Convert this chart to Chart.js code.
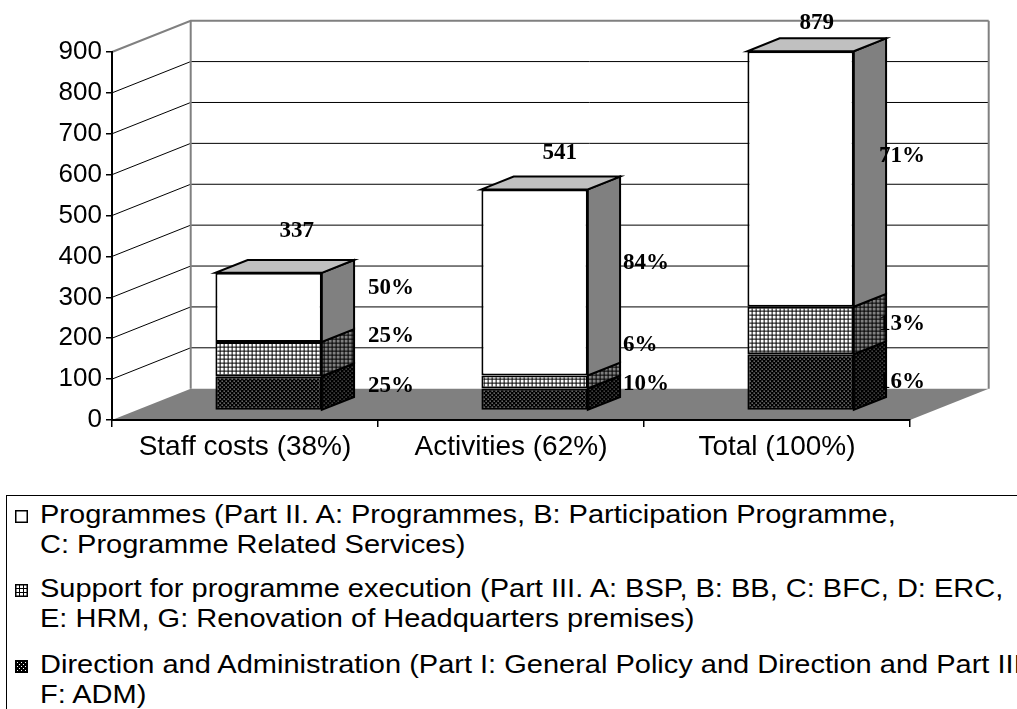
<!DOCTYPE html>
<html><head><meta charset="utf-8">
<script src="https://cdn.jsdelivr.net/npm/chart.js@4.4.1/dist/chart.umd.min.js"></script>
<style>
html,body{margin:0;padding:0;background:#fff;overflow:hidden;width:1017px;height:709px;}
#wrap{position:relative;width:1017px;height:709px;overflow:hidden;}
#c{position:absolute;left:0;top:0;}
#legend{position:absolute;left:6px;top:495px;width:1200px;height:300px;border-top:1px solid #000;border-left:1px solid #000;}
.item{position:absolute;left:0;width:1200px;}
.sw{position:absolute;left:8px;width:13px;height:13px;}
.txt{position:absolute;left:33px;top:0;font-family:"Liberation Sans",Arial,sans-serif;font-size:25px;line-height:30px;white-space:nowrap;transform:scaleX(1.16);transform-origin:0 0;color:#000;}
</style></head>
<body><div id="wrap"><canvas id="c" width="1017" height="480"></canvas><div id="legend"></div></div>
<script>
// ---- data ----
const categories = ['Staff costs (38%)', 'Activities (62%)', 'Total (100%)'];
const direction  = [84, 54, 138];
const support    = [84, 32, 116];
const programmes = [169, 455, 625];
const yMin = 0, yMax = 900, yStep = 100;
const legendDirection  = ['Direction and Administration (Part I: General Policy and Direction and Part III.', 'F: ADM)'];
const legendSupport    = ['Support for programme execution (Part III. A: BSP, B: BB, C: BFC, D: ERC,', 'E: HRM, G: Renovation of Headquarters premises)'];
const legendProgrammes = ['Programmes (Part II. A: Programmes, B: Participation Programme,', 'C: Programme Related Services)'];

// ---- 3D geometry / label styling ----
const DEPTH = {dx: 78.7, dy: -31.3};
const BAR_FRONT = 0.30, BAR_BACK = 0.71;
const totalNudge = [[12, -35], [9, -30], [0, -22]];
// per dataset (direction, support, programmes), per category
const pctNudge = [
  [[14, 6], [3, -2], [-7, 13]],
  [[14, -10], [3, -24], [-7, 6]],
  [[14, -6], [3, -7], [-7, -10]]
];

function tile(kind, bg, fg){
  const c = document.createElement('canvas'); c.width = 4; c.height = 4;
  const g = c.getContext('2d');
  g.fillStyle = bg; g.fillRect(0,0,4,4); g.fillStyle = fg;
  if (kind === 'grid'){ g.fillRect(0,0,4,1); g.fillRect(0,0,1,4); }
  else { g.fillRect(0,0,1,1); g.fillRect(2,2,1,1); }
  return c;
}
const canvas = document.getElementById('c');
const ctx = canvas.getContext('2d');
const pat = (kind,bg,fg) => ctx.createPattern(tile(kind,bg,fg),'repeat');
const frontFill = [pat('dots','#000','#fff'), pat('grid','#fff','#000'), '#ffffff'];
const sideFill  = [pat('dots','#000','#a0a0a0'), pat('grid','#808080','#000'), '#808080'];
const topFill = '#c0c0c0';
const FONT = '"Liberation Sans", Arial, sans-serif';
const LABEL_FONT = 'bold 23px "Liberation Serif", "Times New Roman", serif';

const threeD = {
  id: 'threeD',
  beforeDraw(chart){
    const {ctx, chartArea:a, scales:{y}} = chart;
    ctx.save();
    const y0 = y.getPixelForValue(0);
    ctx.fillStyle = '#808080';
    ctx.beginPath();
    ctx.moveTo(a.left, y0); ctx.lineTo(a.right, y0);
    ctx.lineTo(a.right + DEPTH.dx, y0 + DEPTH.dy); ctx.lineTo(a.left + DEPTH.dx, y0 + DEPTH.dy);
    ctx.closePath(); ctx.fill();
    y.ticks.forEach(t => {
      if (t.value === yMin) return;
      const py = y.getPixelForValue(t.value);
      const top = t.value === yMax;
      ctx.strokeStyle = top ? '#808080' : '#000';
      ctx.lineWidth = top ? 2 : 1;
      ctx.beginPath();
      ctx.moveTo(a.left, py); ctx.lineTo(a.left + DEPTH.dx, py + DEPTH.dy);
      ctx.lineTo(a.right + DEPTH.dx, py + DEPTH.dy);
      ctx.stroke();
    });
    const yt = y.getPixelForValue(yMax) + DEPTH.dy, yb = y0 + DEPTH.dy;
    ctx.strokeStyle = '#808080'; ctx.lineWidth = 2;
    ctx.beginPath();
    ctx.moveTo(a.left + DEPTH.dx, yt); ctx.lineTo(a.left + DEPTH.dx, yb);
    ctx.moveTo(a.right + DEPTH.dx, yt); ctx.lineTo(a.right + DEPTH.dx, yb);
    ctx.stroke();
    ctx.restore();
  },
  beforeDatasetsDraw(chart){
    const {ctx} = chart;
    ctx.save();
    ctx.translate(DEPTH.dx * BAR_FRONT, DEPTH.dy * BAR_FRONT);
    const bdx = DEPTH.dx * (BAR_BACK - BAR_FRONT), bdy = DEPTH.dy * (BAR_BACK - BAR_FRONT);
    const n = chart.data.datasets.length;
    for (let i = 0; i < n; i++){
      chart.getDatasetMeta(i).data.forEach(el => {
        const p = el.getProps(['x','y','base','width'], true);
        const xl = p.x - p.width/2, xr = p.x + p.width/2;
        const top = Math.min(p.y, p.base), bot = Math.max(p.y, p.base);
        ctx.lineWidth = 2; ctx.strokeStyle = '#000'; ctx.lineJoin = 'miter';
        ctx.fillStyle = sideFill[i];
        ctx.beginPath();
        ctx.moveTo(xr, top); ctx.lineTo(xr + bdx, top + bdy); ctx.lineTo(xr + bdx, bot + bdy); ctx.lineTo(xr, bot);
        ctx.closePath(); ctx.fill(); ctx.stroke();
        if (i === n - 1){
          ctx.fillStyle = topFill;
          ctx.beginPath();
          ctx.moveTo(xl, top); ctx.lineTo(xr, top); ctx.lineTo(xr + bdx, top + bdy); ctx.lineTo(xl + bdx, top + bdy);
          ctx.closePath(); ctx.fill(); ctx.stroke();
        }
      });
    }
  },
  afterDatasetsDraw(chart){
    const {ctx} = chart;
    ctx.restore();
    const tx = DEPTH.dx * BAR_FRONT, ty = DEPTH.dy * BAR_FRONT;
    const bdx = DEPTH.dx * (BAR_BACK - BAR_FRONT), bdy = DEPTH.dy * (BAR_BACK - BAR_FRONT);
    const n = chart.data.datasets.length;
    ctx.save();
    ctx.font = LABEL_FONT; ctx.fillStyle = '#000'; ctx.textBaseline = 'middle';
    for (let i = 0; i < n; i++){
      chart.getDatasetMeta(i).data.forEach((el, j) => {
        const p = el.getProps(['x','y','base','width'], true);
        let tot = 0; chart.data.datasets.forEach(d => tot += d.data[j]);
        const v = chart.data.datasets[i].data[j];
        const txt = Math.round(v / tot * 100) + '%';
        const xa = p.x + p.width/2 + tx + bdx + pctNudge[i][j][0];
        const ya = (p.y + p.base)/2 + ty + bdy + pctNudge[i][j][1];
        ctx.textAlign = 'left';
        ctx.fillText(txt, xa, ya);
      });
    }
    chart.getDatasetMeta(n - 1).data.forEach((el, j) => {
      const p = el.getProps(['x','y'], true);
      let tot = 0; chart.data.datasets.forEach(d => tot += d.data[j]);
      ctx.textAlign = 'center';
      ctx.fillText(String(tot), p.x + tx + bdx/2 + totalNudge[j][0], p.y + ty + bdy/2 + totalNudge[j][1]);
    });
    ctx.restore();
  }
};

const common = {borderColor:'#000', borderWidth:2, borderSkipped:false, barPercentage:0.4, categoryPercentage:1, clip:false};
new Chart(ctx, {
  type: 'bar',
  data: {
    labels: categories,
    datasets: [
      Object.assign({label: legendDirection.join(' '), data: direction, backgroundColor: frontFill[0]}, common),
      Object.assign({label: legendSupport.join(' '), data: support, backgroundColor: frontFill[1]}, common),
      Object.assign({label: legendProgrammes.join(' '), data: programmes, backgroundColor: frontFill[2]}, common)
    ]
  },
  options: {
    responsive: false, animation: false, devicePixelRatio: 1, events: [],
    layout: {padding: {left: 0, right: 107, top: 52, bottom: 0}},
    plugins: {legend: {display: false}, tooltip: {enabled: false}},
    scales: {
      x: {
        stacked: true,
        grid: {offset: true, drawOnChartArea: false, drawTicks: true, tickLength: 7, color: '#000', lineWidth: 1.5},
        border: {display: true, color: '#000', width: 2},
        ticks: {color: '#000', font: {family: FONT, size: 28}, padding: 3, maxRotation: 0, autoSkip: false},
        afterFit(s){ s.height = 60; }
      },
      y: {
        stacked: true, min: yMin, max: yMax,
        ticks: {stepSize: yStep, color: '#000', font: {family: FONT, size: 26}, padding: 4},
        grid: {drawOnChartArea: false, drawTicks: true, tickLength: 6, color: '#000', lineWidth: 1.5},
        border: {display: true, color: '#000', width: 2},
        afterFit(s){ s.width = 112; }
      }
    }
  },
  plugins: [threeD]
});

// ---- legend (HTML) ----
const legendItems = [
  {lines: legendProgrammes, fill: '#ffffff'},
  {lines: legendSupport, fill: 'grid'},
  {lines: legendDirection, fill: 'dots'}
];
const itemTops = [3, 77, 153];
const lg = document.getElementById('legend');
legendItems.forEach((it, k) => {
  const d = document.createElement('div'); d.className = 'item'; d.style.top = itemTops[k] + 'px';
  const sw = document.createElement('canvas'); sw.className = 'sw'; sw.width = 13; sw.height = 13; sw.style.top = '11px';
  const g = sw.getContext('2d');
  g.fillStyle = it.fill === 'grid' ? g.createPattern(tile('grid','#fff','#000'),'repeat') :
                it.fill === 'dots' ? g.createPattern(tile('dots','#000','#fff'),'repeat') : it.fill;
  g.fillRect(0,0,13,13);
  g.strokeStyle = '#000'; g.lineWidth = 1.5; g.strokeRect(0.75,0.75,11.5,11.5);
  d.appendChild(sw);
  const t = document.createElement('div'); t.className = 'txt';
  t.innerHTML = it.lines.map(l => '<div>' + l + '</div>').join('');
  d.appendChild(t);
  lg.appendChild(d);
});
</script></body></html>
